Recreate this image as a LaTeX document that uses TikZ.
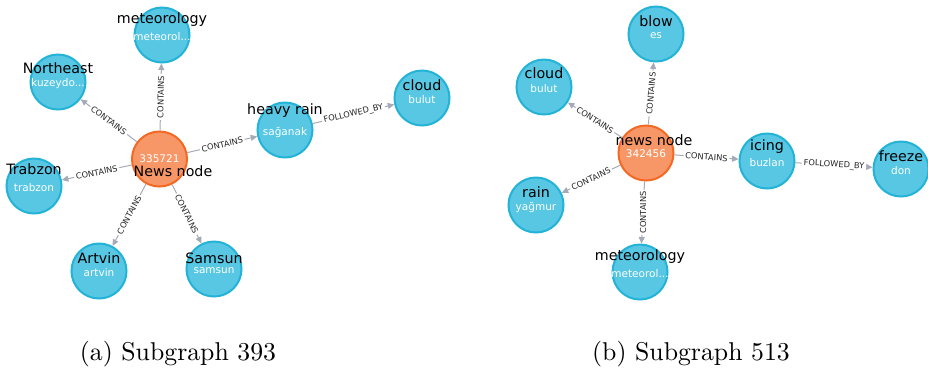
\documentclass[tikz,border=0pt]{standalone}
\usepackage{fontspec}
\usetikzlibrary{arrows.meta}
\newfontfamily\gfont{DejaVu Sans}
\definecolor{entfill}{HTML}{57C7E3}
\definecolor{entline}{HTML}{23B3D7}
\definecolor{newsfill}{HTML}{F79767}
\definecolor{newsline}{HTML}{F36924}
\definecolor{relgray}{HTML}{A5ABB6}
\tikzset{
  ent/.style={circle, draw=entline, fill=entfill, line width=0.8pt, minimum size=22pt, inner sep=0pt},
  news/.style={ent, draw=newsline, fill=newsfill},
  lblname/.style={font=\gfont\fontsize{5.7}{6}\selectfont, text=black, inner sep=0pt},
  lblval/.style={font=\gfont\fontsize{4.2}{5}\selectfont, text=white, inner sep=0pt, yshift=-0.8pt},
  rel/.style={draw=relgray, line width=0.4pt, -{Triangle[length=2.6pt,width=2.4pt]}},
  elbl/.style={font=\gfont\fontsize{3.3}{4}\selectfont, text=black!85, fill=white, inner sep=0.7pt},
  captxt/.style={font=\fontsize{10.3}{12}\selectfont}
}
\begin{document}
\begin{tikzpicture}[x=0.4pt, y=-0.4pt]
\useasboundingbox (0,0) rectangle (928,369);
% subgraph 393
\node[news, label={[lblval, yshift=0.8pt]center:335721}, label={[lblname, xshift=5.4pt, yshift=-4.8pt]center:News node}] (na) at (159.5,159){};
\node[ent, label={[lblname, yshift=6pt]center:meteorology}, label={[lblval]center:meteorol...}] (meta) at (162,35){};
\node[ent, label={[lblname, yshift=5.6pt]center:Northeast}, label={[lblval]center:kuzeydo...}] (nea) at (58,82){};
\node[ent, label={[lblname, yshift=6.8pt]center:Trabzon}, label={[lblval]center:trabzon}] (tra) at (34,186){};
\node[ent, label={[lblname, yshift=5.2pt]center:Artvin}, label={[lblval]center:artvin}] (arta) at (99,271){};
\node[ent, label={[lblname, yshift=4.4pt]center:Samsun}, label={[lblval]center:samsun}] (sama) at (214,269){};
\node[ent, label={[lblname, yshift=7.6pt]center:heavy rain}, label={[lblval]center:sağanak}] (hra) at (285,130){};
\node[ent, label={[lblname, yshift=5.2pt]center:cloud}, label={[lblval]center:bulut}] (cla) at (422,98){};
\draw[rel] (na) -- node[elbl, sloped] {CONTAINS} (meta);
\draw[rel] (na) -- node[elbl, sloped] {CONTAINS} (nea);
\draw[rel] (na) -- node[elbl, sloped] {CONTAINS} (tra);
\draw[rel] (na) -- node[elbl, sloped] {CONTAINS} (arta);
\draw[rel] (na) -- node[elbl, sloped] {CONTAINS} (sama);
\draw[rel] (na) -- node[elbl, sloped] {CONTAINS} (hra);
\draw[rel] (hra) -- node[elbl, sloped] {FOLLOWED\_BY} (cla);
% subgraph 513
\node[news, label={[lblval, yshift=0.4pt]center:342456}, label={[lblname, xshift=3.2pt, yshift=5.2pt]center:news node}] (nb) at (646,153){};
\node[ent, label={[lblname, yshift=5.2pt]center:blow}, label={[lblval]center:es}] (blb) at (656,34){};
\node[ent, label={[lblname, yshift=5.6pt]center:cloud}, label={[lblval]center:bulut}] (clb) at (544,87){};
\node[ent, label={[lblname, yshift=5.2pt]center:rain}, label={[lblval]center:yağmur}] (rnb) at (536,205){};
\node[ent, label={[lblname, yshift=6pt]center:meteorology}, label={[lblval]center:meteorol...}] (metb) at (640,272){};
\node[ent, label={[lblname, yshift=5.6pt]center:icing}, label={[lblval]center:buzlan}] (icb) at (767,161){};
\node[ent, label={[lblname, yshift=5.2pt]center:freeze}, label={[lblval]center:don}] (frb) at (901,169){};
\draw[rel] (nb) -- node[elbl, sloped] {CONTAINS} (blb);
\draw[rel] (nb) -- node[elbl, sloped] {CONTAINS} (clb);
\draw[rel] (nb) -- node[elbl, sloped] {CONTAINS} (rnb);
\draw[rel] (nb) -- node[elbl, rotate=90] {CONTAINS} (metb);
\draw[rel] (nb) -- node[elbl, sloped] {CONTAINS} (icb);
\draw[rel] (icb) -- node[elbl, sloped] {FOLLOWED\_BY} (frb);
% captions
\node[captxt] (capa) at (178,354) {(a) Subgraph 393};
\node[captxt] (capb) at (691,354) {(b) Subgraph 513};
\end{tikzpicture}
\end{document}
